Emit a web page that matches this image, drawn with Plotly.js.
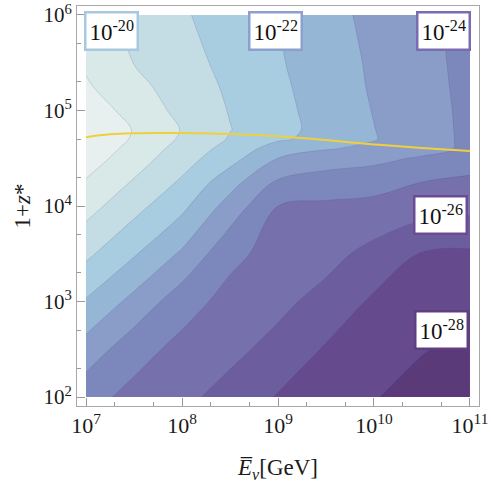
<!DOCTYPE html>
<html>
<head>
<meta charset="utf-8">
<script src="https://cdn.plot.ly/plotly-3.0.1.min.js"></script>
<style>
  html, body { margin: 0; padding: 0; background: #fff; }
  #chart { width: 491px; height: 483px; }
</style>
</head>
<body>
<div id="chart"></div>
<script>
// grid of the contour map (mean neutrino energy in GeV, 1+z)
const energies = [1e7, 3.1623e7, 1e8, 3.1623e8, 1e9, 3.1623e9, 1e10, 3.1623e10, 1e11];
const redshifts = [100, 316.23, 1000, 3162.3, 1e4, 17783, 31623, 39811, 50119, 63096, 1e5, 177828, 316228, 1e6];

// log10 of the plotted quantity, one row per redshift value
const logValues = [
  [-24.63, -25.30, -25.77, -26.33, -27.07, -27.52, -27.94, -28.40, -28.80],
  [-23.42, -24.60, -25.30, -25.76, -26.30, -27.10, -27.55, -27.94, -28.30],
  [-22.09, -23.30, -24.57, -25.34, -25.76, -26.33, -27.16, -27.50, -27.91],
  [-20.79, -21.90, -23.15, -24.73, -25.39, -25.67, -26.31, -27.06, -27.15],
  [-19.62, -20.67, -21.75, -23.41, -25.00, -25.14, -25.26, -25.53, -25.71],
  [-19.09, -20.09, -21.14, -22.60, -24.15, -24.54, -24.63, -25.00, -25.21],
  [-18.51, -19.53, -20.58, -21.63, -23.00, -23.44, -23.73, -24.12, -24.47],
  [-18.29, -19.33, -20.36, -21.36, -22.47, -22.94, -23.19, -23.62, -24.20],
  [-18.05, -19.12, -20.14, -21.08, -21.87, -22.31, -22.95, -23.59, -24.20],
  [-18.13, -19.05, -20.05, -20.97, -21.67, -22.35, -22.98, -23.61, -24.20],
  [-18.46, -19.34, -20.29, -21.05, -21.73, -22.39, -23.04, -23.64, -24.21],
  [-18.88, -19.70, -20.48, -21.15, -21.81, -22.47, -23.11, -23.68, -24.24],
  [-19.14, -20.02, -20.65, -21.27, -21.90, -22.53, -23.15, -23.72, -24.26],
  [-19.55, -20.22, -20.89, -21.45, -22.00, -22.67, -23.26, -23.78, -24.30]
];

// contour levels and the fill of each band, darkest (lowest) first
const levelStart = -28;
const levelEnd = -19;
const bandColors = ["#5b3a7a", "#654b8e", "#6c5d9f", "#7670ad", "#7c88bc", "#8a9dc9",
                    "#95b6d5", "#a8cde0", "#c4dde5", "#d9e9e8", "#e7f0ee"];

// yellow boundary curve
const curveEnergy = [1e7, 1.778e7, 3.162e7, 5.623e7, 1e8, 3.162e8, 1e9, 3.162e9, 1e10, 3.162e10, 1e11];
const curveRedshift = [52480, 56230, 57810, 58210, 58080, 56750, 53700, 48980, 44160, 40460, 37670];

// contour labels
const labelTexts = ["10<sup>-20</sup>", "10<sup>-22</sup>", "10<sup>-24</sup>", "10<sup>-26</sup>", "10<sup>-28</sup>"];
const labelBorders = ["#a6c9df", "#8d9fcc", "#7a6cb0", "#6b4c94", "#5f3f82"];
const labelPos = [[7.27, 5.83], [8.97, 5.83], [10.72, 5.83], [10.69, 3.906], [10.70, 2.70]];

const nBands = bandColors.length - 1;
const colorscale = bandColors.map((c, k) => [k / nBands, c]);

const contourTrace = {
  type: "contour",
  x: energies,
  y: redshifts,
  z: logValues,
  autocontour: false,
  contours: {start: levelStart, end: levelEnd, size: 1, coloring: "fill", showlines: true},
  colorscale: colorscale,
  showscale: false,
  line: {color: "rgba(70,60,130,0.3)", width: 0.6, smoothing: 1},
  hoverinfo: "skip"
};

const curveTrace = {
  type: "scatter",
  mode: "lines",
  x: curveEnergy,
  y: curveRedshift,
  line: {color: "#efd03c", width: 2, shape: "spline"},
  hoverinfo: "skip"
};

const serif = "Liberation Serif";

const annotations = labelTexts.map((t, i) => ({
  x: labelPos[i][0],
  y: labelPos[i][1],
  xref: "x",
  yref: "y",
  text: t,
  showarrow: false,
  font: {family: serif, size: 23, color: "#111"},
  bgcolor: "#ffffff",
  bordercolor: labelBorders[i],
  borderwidth: 2.5,
  borderpad: 3
}));

const pad = 0.094;

const layout = {
  width: 491,
  height: 483,
  margin: {l: 77, r: 12, t: 6, b: 77},
  paper_bgcolor: "#ffffff",
  plot_bgcolor: "#ffffff",
  showlegend: false,
  font: {family: serif, size: 20, color: "#222"},
  xaxis: {
    type: "log",
    range: [7 - pad, 11 + pad],
    tickvals: [1e7, 1e8, 1e9, 1e10, 1e11],
    ticktext: ["10<sup>7</sup>", "10<sup>8</sup>", "10<sup>9</sup>", "10<sup>10</sup>", "10<sup>11</sup>"],
    ticks: "inside",
    ticklen: 8,
    tickcolor: "#9a9a9a",
    minor: {dtick: "D2", ticks: "inside", ticklen: 4, tickcolor: "#9a9a9a"},
    showline: true,
    mirror: true,
    linecolor: "#a8a8a8",
    linewidth: 1,
    showgrid: false,
    zeroline: false,
    ticklabeloverflow: "allow",
    tickfont: {family: serif, size: 22, color: "#1a1a1a"},
    title: {text: "<i>E\u0305</i><sub><i>ν</i></sub>[GeV]", font: {family: serif, size: 23, color: "#1a1a1a"}, standoff: 22}
  },
  yaxis: {
    type: "log",
    range: [2 - pad, 6 + pad],
    tickvals: [1e2, 1e3, 1e4, 1e5, 1e6],
    ticktext: ["10<sup>2</sup>", "10<sup>3</sup>", "10<sup>4</sup>", "10<sup>5</sup>", "10<sup>6</sup>"],
    ticks: "inside",
    ticklen: 8,
    tickcolor: "#9a9a9a",
    minor: {dtick: "D2", ticks: "inside", ticklen: 4, tickcolor: "#9a9a9a"},
    showline: true,
    mirror: true,
    linecolor: "#a8a8a8",
    linewidth: 1,
    showgrid: false,
    zeroline: false,
    ticklabeloverflow: "allow",
    tickfont: {family: serif, size: 21, color: "#1a1a1a"},
    title: {text: "1+<i>z</i>*", font: {family: serif, size: 23, color: "#1a1a1a"}, standoff: 6}
  },
  annotations: annotations
};

Plotly.newPlot("chart", [contourTrace, curveTrace], layout, {staticPlot: true, displayModeBar: false});
</script>
</body>
</html>
